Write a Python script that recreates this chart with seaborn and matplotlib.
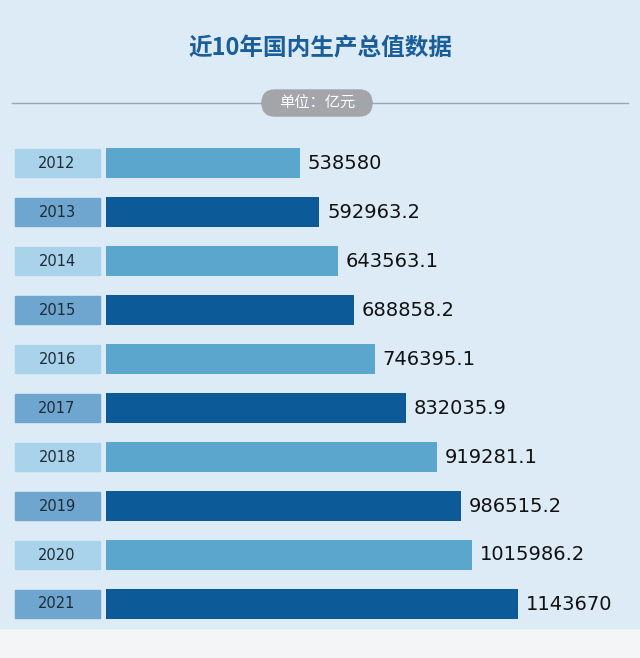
import matplotlib
matplotlib.use("Agg")
import matplotlib.pyplot as plt
import seaborn as sns
import pandas as pd
from matplotlib.patches import Rectangle, FancyBboxPatch
from matplotlib.transforms import blended_transform_factory

years = ["2012","2013","2014","2015","2016","2017","2018","2019","2020","2021"]
values = [538580, 592963.2, 643563.1, 688858.2, 746395.1, 832035.9, 919281.1, 986515.2, 1015986.2, 1143670]
labels = ["538580","592963.2","643563.1","688858.2","746395.1","832035.9","919281.1","986515.2","1015986.2","1143670"]
title = "近10年国内生产总值数据"
unit = "单位：亿元"

plt.rcParams["font.family"] = "Noto Sans CJK SC"
W, H = 640, 658
fig = plt.figure(figsize=(W/100, H/100), dpi=100)
fig.patch.set_facecolor("#f3f5f7")
ax = fig.add_axes([0, 0, 1, 1])
ax.set_facecolor("none")
ax.set_zorder(2)
fig.patches.append(Rectangle((0, 30/H), 1, 1-30/H, transform=fig.transFigure, color="#dcebf6", zorder=-5))

scale = 0.000360  # px per unit
x0 = 106
ax.set_xlim(-x0/scale, (W-x0)/scale)
row0, step = 163, 49.0

df = pd.DataFrame({"year": years, "value": values,
                   "kind": ["a" if i % 2 == 0 else "b" for i in range(len(years))]})
sns.barplot(data=df, x="value", y="year", hue="kind", orient="h", dodge=False,
            palette={"a": "#5ba6cd", "b": "#0d5a99"}, width=30/step, legend=False, ax=ax,
            saturation=1)
ax.set_xlim(-x0/scale, (W-x0)/scale)
ax.set_ylim((H-row0)/step, -row0/step)
ax.axis("off")

tr = blended_transform_factory(fig.transFigure, ax.transData)
for i, (y, v, lab) in enumerate(zip(years, values, labels)):
    c = "#a9d3ea" if i % 2 == 0 else "#6ea6cf"
    ax.add_patch(Rectangle((15/W, i-14/step), 85/W, 28/step, transform=tr, color=c, zorder=3))
    ax.text(57/W, i, y, transform=tr, ha="center", va="center", fontsize=10.5, color="#1f2a36", zorder=4,
            family="DejaVu Sans")
    ax.text(v + 8/scale, i, lab, ha="left", va="center", fontsize=14, color="#111111", family="DejaVu Sans")

fig.text(0.5, 1-48/H, title, ha="center", va="center", fontsize=17, fontweight="bold", color="#1a5d9b")
fig.lines.append(plt.Line2D([12/W, 628/W], [1-103/H]*2, transform=fig.transFigure, color="#9aa8b4", lw=1))
fig.patches.append(FancyBboxPatch((262/W, 1-116/H), 110/W, 26/H, boxstyle="round,pad=0,rounding_size=0.02",
                                  transform=fig.transFigure, color="#a3a5a8", mutation_aspect=H/W))
fig.text(317/W, 1-103/H, unit, ha="center", va="center", fontsize=11, color="white")
fig.savefig("out.png", dpi=100)
